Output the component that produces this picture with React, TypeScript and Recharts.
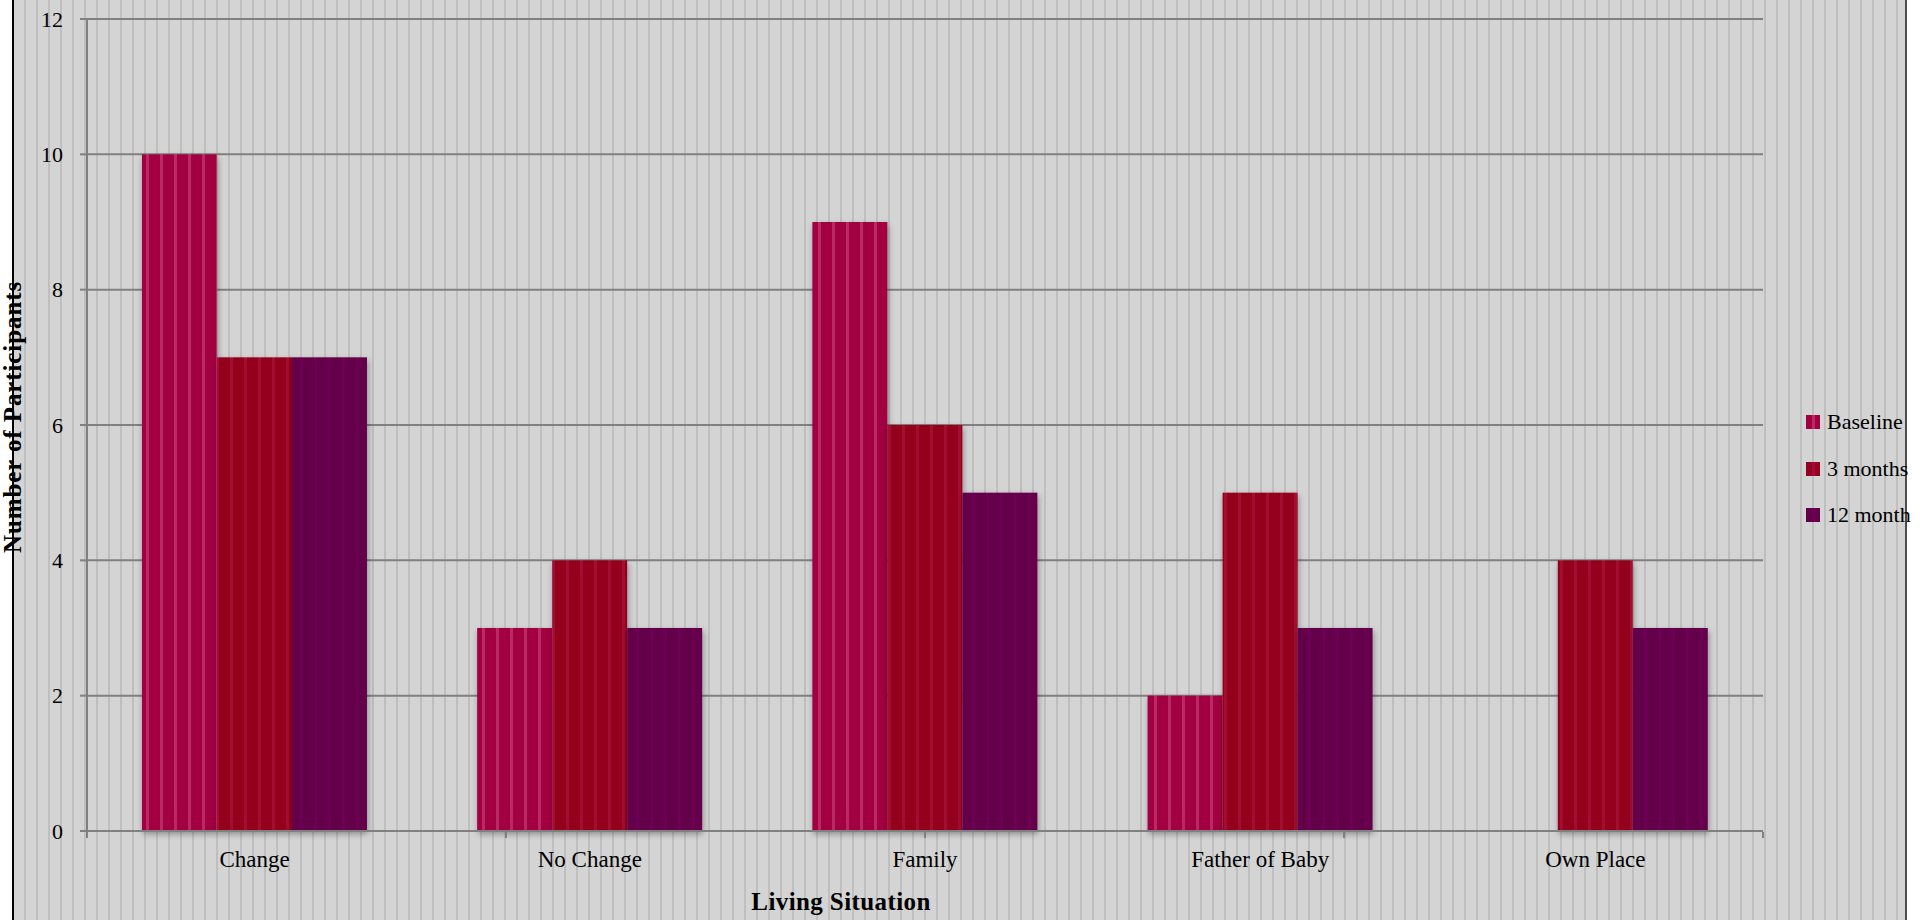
import React from 'react';
import { BarChart, Bar, XAxis, YAxis, CartesianGrid, Label } from 'recharts';

const categories = ['Change', 'No Change', 'Family', 'Father of Baby', 'Own Place'];
const baseline = [10, 3, 9, 2, 0];
const threeMonths = [7, 4, 6, 5, 4];
const twelveMonths = [7, 3, 5, 3, 3];
const yTicks = [0, 2, 4, 6, 8, 10, 12];
const edgeTicks = [0, 1, 2, 3, 4, 5];

const series = [
  { key: 'baseline', name: 'Baseline', base: '#a2003f', stripe: '#b82a66' },
  { key: 'threeMonths', name: '3 months', base: '#94001f', stripe: '#a20a33' },
  { key: 'twelveMonths', name: '12 month', base: '#630049', stripe: '#6d0054' },
];

const data = categories.map((c, i) => ({
  category: c,
  baseline: baseline[i],
  threeMonths: threeMonths[i],
  twelveMonths: twelveMonths[i],
}));

const FONT = '"Liberation Serif", "DejaVu Serif", serif';
const GRID = '#808080';

const BarShape = (props: any) => {
  const { x, y, width, height, fill } = props;
  if (!height || height <= 0) return <g />;
  return <rect x={x} y={y} width={width} height={height} fill={fill} filter="url(#barShadow)" />;
};

// legend hangs over the right frame line, as in the original
const LegendBox = () => (
  <div
    style={{
      position: 'absolute',
      left: 1806,
      top: 399,
      fontFamily: FONT,
      fontSize: 22,
      color: '#000',
      whiteSpace: 'nowrap',
    }}
  >
    {series.map((s) => (
      <div key={s.key} style={{ display: 'flex', alignItems: 'center', height: 46.5 }}>
        <svg width={14} height={14} style={{ marginRight: 7, flex: 'none' }}>
          <rect x={0} y={0} width={14} height={14} fill={s.base} />
          <rect x={6} y={0} width={3} height={14} fill={s.stripe} />
        </svg>
        <span>{s.name}</span>
      </div>
    ))}
  </div>
);

export default function App() {
  return (
    <div style={{ position: 'absolute', left: 0, top: 0, width: 1920, height: 920, background: '#fff', overflow: 'hidden' }}>
      <div
        style={{
          position: 'absolute',
          left: 12,
          top: -2,
          width: 1895,
          height: 924,
          boxSizing: 'border-box',
          borderLeft: '2px solid #000',
          borderRight: '2px solid #4d4d4d',
          background: 'repeating-linear-gradient(to right, #d4d4d4 0px, #d4d4d4 10px, #bfbfbf 10px, #bfbfbf 12px)',
        }}
      />
      <div style={{ position: 'absolute', left: 0, top: 0 }}>
        <BarChart
          width={1920}
          height={920}
          data={data}
          margin={{ top: 19, right: 157, bottom: 29, left: 0 }}
          barCategoryGap="16.4%"
          barGap={0}
        >
          <defs>
            <filter id="barShadow" x="-20%" y="-10%" width="140%" height="130%">
              <feDropShadow dx={1} dy={3} stdDeviation={3} floodColor="#000" floodOpacity={0.35} />
            </filter>
            {series.map((s) => (
              <pattern key={s.key} id={`pat-${s.key}`} patternUnits="userSpaceOnUse" width={14} height={14}>
                <rect x={0} y={0} width={14} height={14} fill={s.base} />
                <rect x={6} y={0} width={3} height={14} fill={s.stripe} />
              </pattern>
            ))}
          </defs>
          <CartesianGrid vertical={false} stroke={GRID} strokeWidth={2} />
          <XAxis
            xAxisId="edge"
            type="number"
            domain={[0, 5]}
            ticks={edgeTicks}
            height={59}
            axisLine={false}
            tickLine={{ stroke: GRID, strokeWidth: 2 }}
            tickSize={6}
            tick={() => <g />}
          />
          <XAxis
            xAxisId="cat"
            dataKey="category"
            height={1}
            tickLine={false}
            axisLine={{ stroke: GRID, strokeWidth: 2 }}
            tickSize={6}
            tickMargin={14}
            tick={{ fontFamily: FONT, fontSize: 23, fill: '#000' }}
            interval={0}
          >
            <Label
              content={({ viewBox }: any) => (
                <text
                  x={viewBox.x + viewBox.width / 2 - 84}
                  y={910}
                  textAnchor="middle"
                  fontFamily={FONT}
                  fontSize={25}
                  fontWeight="bold"
                  letterSpacing={0.4}
                  fill="#000"
                >
                  Living Situation
                </text>
              )}
            />
          </XAxis>
          <YAxis
            width={87}
            domain={[0, 12]}
            ticks={yTicks}
            axisLine={{ stroke: GRID, strokeWidth: 2 }}
            tickLine={{ stroke: GRID, strokeWidth: 2 }}
            tickSize={7}
            tickMargin={17}
            tick={{ fontFamily: FONT, fontSize: 22, fill: '#000' }}
          >
            <Label
              content={({ viewBox }: any) => {
                const cy = viewBox.y + viewBox.height / 2 - 8;
                return (
                  <text
                    x={21}
                    y={cy}
                    transform={`rotate(-90, 21, ${cy})`}
                    textAnchor="middle"
                    fontFamily={FONT}
                    fontSize={25}
                    fontWeight="bold"
                    letterSpacing={0.9}
                    fill="#000"
                  >
                    Number of Participants
                  </text>
                );
              }}
            />
          </YAxis>
          {series.map((s) => (
            <Bar
              key={s.key}
              xAxisId="cat"
              dataKey={s.key}
              name={s.name}
              fill={`url(#pat-${s.key})`}
              shape={BarShape}
              isAnimationActive={false}
            />
          ))}
        </BarChart>
      </div>
      <LegendBox />
    </div>
  );
}
